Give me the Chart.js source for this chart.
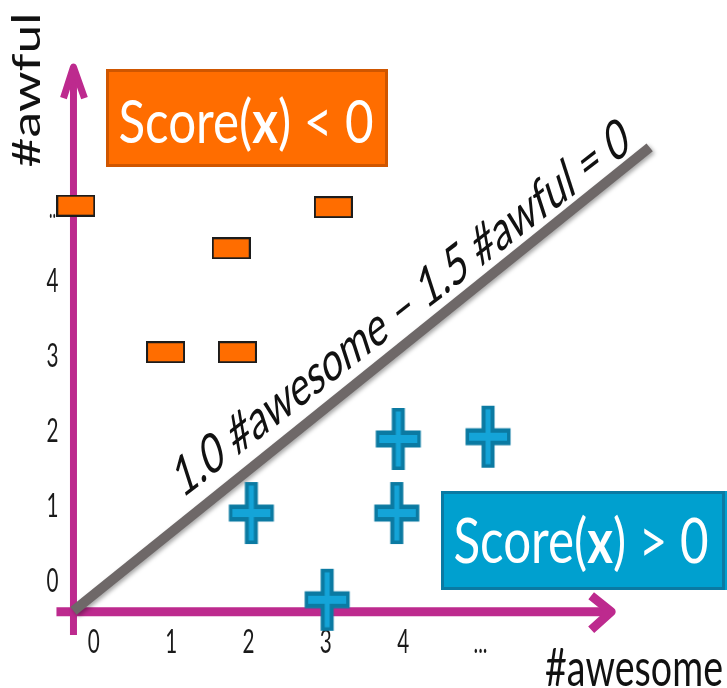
<!DOCTYPE html>
<html>
<head>
<meta charset="utf-8">
<script src="https://cdn.jsdelivr.net/npm/chart.js@4.4.1/dist/chart.umd.min.js"></script>
<style>
  html, body { margin: 0; padding: 0; background: #fff; }
  #wrap { width: 727px; height: 688px; }
</style>
</head>
<body>
<div id="wrap"><canvas id="chart" width="727" height="688"></canvas></div>
<script>
// values
const minusPoints = [
  { x: 0.94, y: 3.04 },
  { x: 1.87, y: 3.04 },
  { x: 1.79, y: 4.43 },
  { x: 3.11, y: 4.98 },
  { x: -0.22, y: 5.0 }
];
const plusPoints = [
  { x: 2.05, y: 0.89 },
  { x: 3.93, y: 0.89 },
  { x: 3.95, y: 1.88 },
  { x: 5.11, y: 1.91 },
  { x: 3.03, y: -0.27 }
];
const boundaryLine = [
  { x: -0.25, y: -0.42 },
  { x: 7.2, y: 5.78 }
];
const xTickValues = [0, 1, 2, 3, 4, 5];
const xTickLabels = ['0', '1', '2', '3', '4', '...'];
const yTickValues = [0, 1, 2, 3, 4, 5];
const yTickLabels = ['0', '1', '2', '3', '4', '..'];

const MAGENTA = '#bd2a8e';
const FONT = 'Lato, "Open Sans", sans-serif';
const CAP = 0.7165; // Lato cap height / em

// marker images
function makeMinus() {
  const c = document.createElement('canvas');
  c.width = 39; c.height = 22;
  const g = c.getContext('2d');
  g.fillStyle = '#ff6d00';
  g.fillRect(1, 1, 37, 20);
  g.strokeStyle = '#1c1c1c';
  g.lineWidth = 2;
  g.strokeRect(1, 1, 37, 20);
  return c;
}
function crossPath(g, cx, cy, hw, hh, vw, vh) {
  g.beginPath();
  g.moveTo(cx - vw, cy - vh);
  g.lineTo(cx + vw, cy - vh);
  g.lineTo(cx + vw, cy - hh);
  g.lineTo(cx + hw, cy - hh);
  g.lineTo(cx + hw, cy + hh);
  g.lineTo(cx + vw, cy + hh);
  g.lineTo(cx + vw, cy + vh);
  g.lineTo(cx - vw, cy + vh);
  g.lineTo(cx - vw, cy + hh);
  g.lineTo(cx - hw, cy + hh);
  g.lineTo(cx - hw, cy - hh);
  g.lineTo(cx - vw, cy - hh);
  g.closePath();
}
function makePlus() {
  const c = document.createElement('canvas');
  c.width = 48; c.height = 64;
  const g = c.getContext('2d');
  crossPath(g, 24, 32, 22.5, 8.5, 6.5, 31);
  g.fillStyle = '#0b7aa2';
  g.fill();
  crossPath(g, 24, 32, 19, 4, 2.5, 27.5);
  g.fillStyle = '#14a4d8';
  g.fill();
  return c;
}

// text helper: fit runs into a width and cap height (the picture is stretched vertically)
function drawRuns(ctx, runs, x, y, width, cap, align, color, rotate) {
  ctx.save();
  ctx.translate(x, y);
  if (rotate) ctx.rotate(rotate);
  let total = 0;
  const widths = runs.map(r => {
    ctx.font = (r.bold ? 'bold ' : '') + '100px ' + FONT;
    const w = ctx.measureText(r.t).width;
    total += w;
    return w;
  });
  ctx.scale(width / total, cap / (100 * CAP));
  let start = align === 'center' ? -total / 2 : align === 'right' ? -total : 0;
  ctx.fillStyle = color;
  ctx.textBaseline = 'alphabetic';
  ctx.textAlign = 'left';
  runs.forEach((r, i) => {
    ctx.font = (r.bold ? 'bold ' : '') + '100px ' + FONT;
    ctx.fillText(r.t, start, 0);
    start += widths[i];
  });
  ctx.restore();
}

function arrowLine(ctx, pts, tip, armA, armB) {
  ctx.beginPath();
  ctx.moveTo(pts[0], pts[1]);
  ctx.lineTo(pts[2], pts[3]);
  ctx.stroke();
  ctx.beginPath();
  ctx.moveTo(armA[0], armA[1]);
  ctx.lineTo(tip[0], tip[1]);
  ctx.lineTo(armB[0], armB[1]);
  ctx.stroke();
}

const axesPlugin = {
  id: 'axes',
  beforeDatasetsDraw(chart) {
    const { ctx, scales: { x, y } } = chart;
    const ox = x.getPixelForValue(-0.25), oy = y.getPixelForValue(-0.43);
    const xs = x.getPixelForValue(-0.47), xe = x.getPixelForValue(6.78);
    const ys = y.getPixelForValue(-0.74), ye = y.getPixelForValue(6.92);
    ctx.save();
    ctx.strokeStyle = MAGENTA;
    ctx.lineJoin = 'round';
    ctx.lineCap = 'butt';
    ctx.lineWidth = 9;
    arrowLine(ctx, [xs, oy, xe - 6, oy], [xe - 6, oy], [xe - 26, oy - 16], [xe - 26, oy + 18]);
    ctx.lineWidth = 7;
    arrowLine(ctx, [ox, ys, ox, ye + 6], [ox, ye + 5], [ox - 10, ye + 36], [ox + 11, ye + 36]);
    ctx.restore();

    xTickValues.forEach((v, i) => {
      drawRuns(ctx, [{ t: xTickLabels[i] }], x.getPixelForValue(v) + 1, oy + 41,
        xTickLabels[i] === '...' ? 14 : 12, 24, 'center', '#1a1a1a');
    });
    yTickValues.forEach((v, i) => {
      drawRuns(ctx, [{ t: yTickLabels[i] }], ox - 21, y.getPixelForValue(v) + 12,
        yTickLabels[i] === '..' ? 7 : 12, 24, 'center', '#1a1a1a');
    });
  }
};

const lineShadow = {
  id: 'lineShadow',
  beforeDatasetDraw(chart, args) {
    if (args.index === 2) {
      chart.ctx.save();
      chart.ctx.shadowColor = 'rgba(0,0,0,0.35)';
      chart.ctx.shadowBlur = 4;
      chart.ctx.shadowOffsetX = 2;
      chart.ctx.shadowOffsetY = 2;
    }
  },
  afterDatasetDraw(chart, args) {
    if (args.index === 2) chart.ctx.restore();
  }
};

const labelsPlugin = {
  id: 'labels',
  afterDatasetsDraw(chart) {
    const ctx = chart.ctx;
    // decision boundary text, rotated inside the stretched picture
    ctx.save();
    const sx = 182, sy = 499, ex = 632, ey = 150, SY = 1.55;
    ctx.translate(sx, sy);
    ctx.scale(1, SY);
    const dx = ex - sx, dy = (ey - sy) / SY;
    ctx.rotate(Math.atan2(dy, dx));
    const txt = '1.0 #awesome \u2013 1.5 #awful = 0';
    ctx.font = '100px ' + FONT;
    const k = Math.hypot(dx, dy) / ctx.measureText(txt).width;
    ctx.scale(k, k);
    ctx.fillStyle = '#111';
    ctx.textBaseline = 'alphabetic';
    ctx.fillText(txt, 0, 0);
    ctx.restore();

    // score boxes
    ctx.save();
    ctx.fillStyle = '#ff6d00';
    ctx.fillRect(106, 69, 282, 98);
    ctx.strokeStyle = '#cf5600';
    ctx.lineWidth = 3;
    ctx.strokeRect(107.5, 70.5, 279, 95);
    ctx.fillStyle = '#00a0cf';
    ctx.fillRect(441, 491, 286, 99);
    ctx.strokeStyle = '#0a7aa3';
    ctx.strokeRect(442.5, 492.5, 281, 96);
    ctx.restore();
    drawRuns(ctx, [{ t: 'Score(' }, { t: 'x', bold: true }, { t: ') < 0' }], 246, 143, 255, 43, 'center', '#fff');
    drawRuns(ctx, [{ t: 'Score(' }, { t: 'x', bold: true }, { t: ') > 0' }], 581, 563, 255, 44, 'center', '#fff');

    // axis titles
    drawRuns(ctx, [{ t: '#awesome' }], 723, 686, 178, 38, 'right', '#111');
    drawRuns(ctx, [{ t: '#awful' }], 40, 90, 155, 27, 'center', '#111', -Math.PI / 2);
  }
};

new Chart(document.getElementById('chart'), {
  type: 'scatter',
  data: {
    datasets: [
      { label: 'Score(x) < 0', data: minusPoints, pointStyle: makeMinus(), pointRadius: 18, pointHoverRadius: 18 },
      { label: 'Score(x) > 0', data: plusPoints, pointStyle: makePlus(), pointRadius: 24, pointHoverRadius: 24 },
      {
        label: 'boundary', data: boundaryLine, showLine: true,
        borderColor: '#6e6868', borderWidth: 10, borderCapStyle: 'butt',
        pointRadius: 0, pointHoverRadius: 0
      }
    ]
  },
  options: {
    responsive: false,
    animation: false,
    layout: { padding: 0, autoPadding: false },
    plugins: { legend: { display: false }, tooltip: { enabled: false } },
    scales: {
      x: { type: 'linear', min: -1.2, max: 8.2, display: false },
      y: { type: 'linear', min: -1.45, max: 7.75, display: false }
    }
  },
  plugins: [axesPlugin, lineShadow, labelsPlugin]
});
</script>
</body>
</html>
